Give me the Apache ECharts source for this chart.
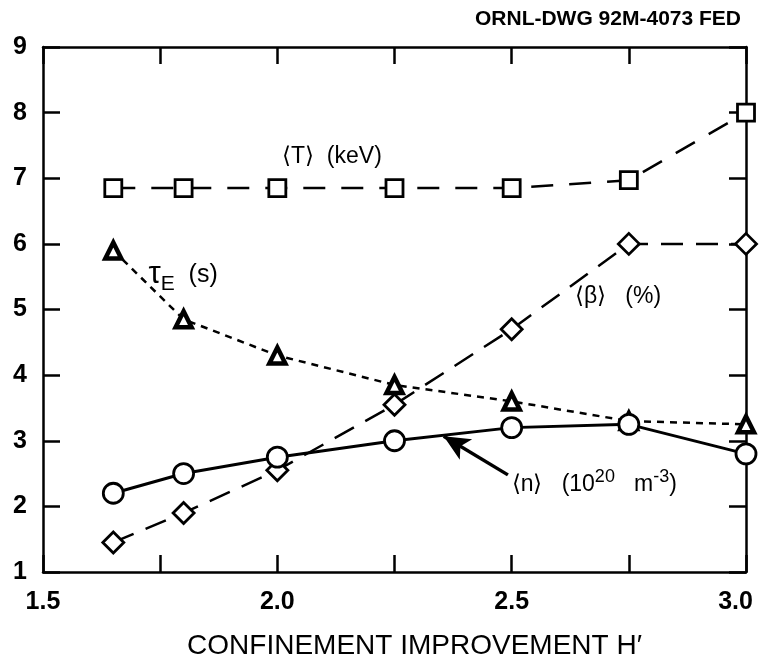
<!DOCTYPE html>
<html>
<head>
<meta charset="utf-8">
<script src="https://cdn.jsdelivr.net/npm/echarts@6/dist/echarts.min.js"></script>
<style>
  html, body { margin: 0; padding: 0; background: #fff; }
  #chart { width: 760px; height: 655px; }
</style>
</head>
<body>
<div id="chart"></div>
<script>
// Confinement improvement factor H'
const hFactor = [1.65, 1.8, 2.0, 2.25, 2.5, 2.75, 3.0];
// <T> (keV)
const temperature = [6.85, 6.85, 6.85, 6.85, 6.85, 6.97, 8.0];
// tau_E (s)
const tauE = [5.9, 4.85, 4.3, 3.85, 3.6, 3.3, 3.25];
// <beta> (%)
const beta = [1.45, 1.9, 2.55, 3.55, 4.7, 6.0, 6.0];
// <n> (10^20 m^-3)
const density = [2.2, 2.5, 2.75, 3.0, 3.2, 3.25, 2.8];

const xLabels = [1.5, 2.0, 2.5, 3.0];

const FONT = '"Liberation Sans", Arial, Helvetica, sans-serif';
const INK = '#000';

function pairs(ys) { return hFactor.map((x, i) => [x, ys[i]]); }

function lineSeries(name, ys, symbol, size, dash, extra) {
  return Object.assign({
    name: name,
    type: 'line',
    data: pairs(ys),
    symbol: symbol,
    symbolSize: size,
    showAllSymbol: true,
    lineStyle: { color: INK, width: 2.5, type: dash },
    itemStyle: { color: '#fff', borderColor: INK, borderWidth: 2.8 },
    z: 3
  }, extra || {});
}

const chart = echarts.init(document.getElementById('chart'), null, { renderer: 'canvas' });

const axisCommon = {
  axisLine: { show: true, onZero: false, lineStyle: { color: INK, width: 2.5 } },
  axisTick: { show: true, inside: true, length: 17, lineStyle: { color: INK, width: 2.5 } },
  splitLine: { show: false }
};

// Only every other tick is labelled; the last label is nudged inwards
function xTickLabel(v) {
  if (!xLabels.some(t => Math.abs(t - v) < 1e-6)) return '';
  return v >= 3.0 - 1e-6 ? v.toFixed(1) + '   ' : v.toFixed(1);
}

chart.setOption({
  animation: false,
  backgroundColor: '#fff',
  grid: { left: 43, right: 14, top: 47, bottom: 83, containLabel: false, outerBoundsMode: 'none' },
  title: {
    text: 'ORNL-DWG 92M-4073 FED',
    right: 14, top: 4,
    textStyle: { fontFamily: FONT, fontSize: 21, fontWeight: 'bold', color: INK }
  },
  xAxis: [
    Object.assign({
      type: 'value', min: 1.5, max: 3.0, interval: 0.25, position: 'bottom',
      name: 'CONFINEMENT IMPROVEMENT H\u2032', nameLocation: 'middle', nameGap: 60,
      nameTextStyle: { fontFamily: FONT, fontSize: 28, color: INK, padding: [0, 0, 0, 40] },
      axisLabel: {
        margin: 18, fontFamily: FONT, fontSize: 25, fontWeight: 'bold', color: INK,
        formatter: xTickLabel
      }
    }, axisCommon),
    Object.assign({
      type: 'value', min: 1.5, max: 3.0, interval: 0.25, position: 'top',
      axisLabel: { show: false }
    }, axisCommon)
  ],
  yAxis: [
    Object.assign({
      type: 'value', min: 1, max: 9, interval: 1, position: 'left',
      axisLabel: { margin: 16, fontFamily: FONT, fontSize: 25, fontWeight: 'bold', color: INK }
    }, axisCommon),
    Object.assign({
      type: 'value', min: 1, max: 9, interval: 1, position: 'right',
      axisLabel: { show: false }
    }, axisCommon)
  ],
  series: [
    lineSeries('T', temperature, 'rect', 17, [22, 16]),
    lineSeries('tauE', tauE, 'triangle', 16, [7, 6], {
      itemStyle: { color: '#fff', borderColor: INK, borderWidth: 4.5 }
    }),
    lineSeries('beta', beta, 'diamond', 21, [22, 13]),
    lineSeries('n', density, 'circle', 20, 'solid', {
      lineStyle: { color: INK, width: 3, type: 'solid' },
      markLine: {
        silent: true,
        symbol: ['none', 'arrow'],
        symbolSize: [18, 26],
        lineStyle: { color: INK, width: 3.5, type: 'solid' },
        label: { show: false },
        data: [[{ coord: [2.492, 2.48] }, { coord: [2.355, 3.07] }]]
      }
    })
  ]
});

// Curve labels anchored in data coordinates
const rich = {
  t: { fontFamily: FONT, fontSize: 23, color: INK },
  s: { fontFamily: FONT, fontSize: 25, color: INK },
  tau: { fontFamily: FONT, fontSize: 31, color: INK },
  sub: { fontFamily: FONT, fontSize: 21, color: INK, padding: [18, 0, 0, 0] },
  sup: { fontFamily: FONT, fontSize: 18, color: INK, padding: [0, 0, 16, 0] }
};

const notes = [
  { at: [2.01, 7.33], text: '{t|\u27E8T\u27E9  (keV)}' },
  { at: [1.725, 5.53], text: '{tau|\u03C4}{sub|E}{s|  (s)}' },
  { at: [2.635, 5.19], text: '{t|\u27E8\u03B2\u27E9   (%)}' },
  { at: [2.5, 2.33], text: '{t|\u27E8n\u27E9   (10}{sup|20}{t|   m}{sup|-3}{t|)}' }
];

chart.setOption({
  graphic: notes.map(n => {
    const p = chart.convertToPixel({ xAxisIndex: 0, yAxisIndex: 0 }, n.at);
    return {
      type: 'text', x: p[0], y: p[1], z: 10,
      style: { text: n.text, rich: rich, verticalAlign: 'middle', align: 'left' }
    };
  })
});
</script>
</body>
</html>
